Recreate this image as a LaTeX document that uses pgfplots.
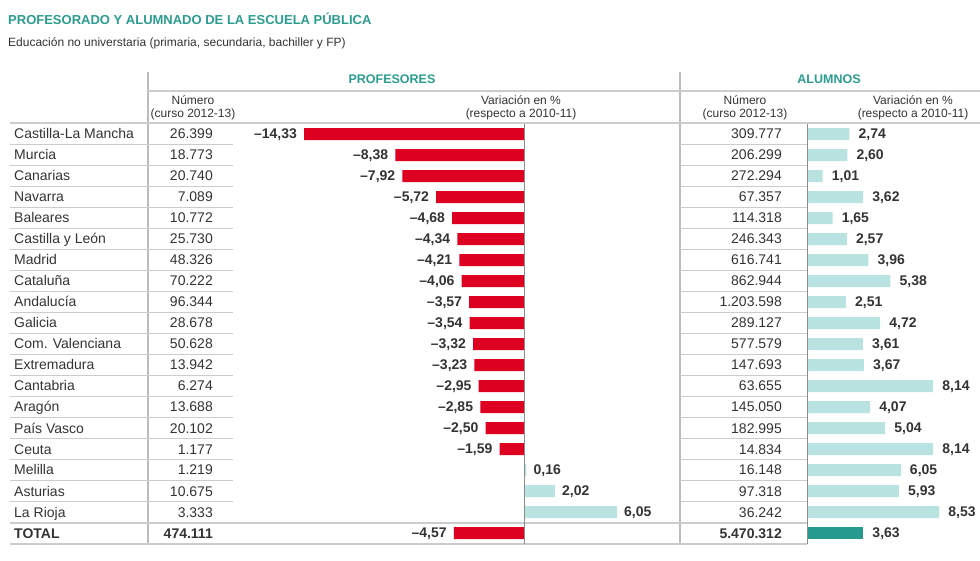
\documentclass[border=0pt]{standalone}
\usepackage{fontspec}
\setmainfont{Liberation Sans}
\usepackage{pgfplots}
\pgfplotsset{compat=1.18}
\usepackage{pgfplotstable}

\newcommand{\fs}[1]{\fontsize{#1}{#1}\selectfont}
\definecolor{rojo}{HTML}{DD0021}
\definecolor{tealL}{HTML}{B9E3E0}
\definecolor{tealD}{HTML}{279B8F}
\definecolor{tealT}{HTML}{2A9D8F}
\definecolor{txt}{HTML}{333333}
\definecolor{rulec}{HTML}{CCCCCC}
\definecolor{vrule}{HTML}{BBBBBB}
\definecolor{zeroc}{HTML}{8C8C8C}

\pgfplotstableread[col sep=semicolon,row sep=\\]{
row;name;pnum;pvar;plab;anum;avar;alab\\
0;Castilla-La Mancha;26.399;-14.33;–14,33;309.777;2.74;2,74\\
1;Murcia;18.773;-8.38;–8,38;206.299;2.60;2,60\\
2;Canarias;20.740;-7.92;–7,92;272.294;1.01;1,01\\
3;Navarra;7.089;-5.72;–5,72;67.357;3.62;3,62\\
4;Baleares;10.772;-4.68;–4,68;114.318;1.65;1,65\\
5;Castilla y León;25.730;-4.34;–4,34;246.343;2.57;2,57\\
6;Madrid;48.326;-4.21;–4,21;616.741;3.96;3,96\\
7;Cataluña;70.222;-4.06;–4,06;862.944;5.38;5,38\\
8;Andalucía;96.344;-3.57;–3,57;1.203.598;2.51;2,51\\
9;Galicia;28.678;-3.54;–3,54;289.127;4.72;4,72\\
10;Com. Valenciana;50.628;-3.32;–3,32;577.579;3.61;3,61\\
11;Extremadura;13.942;-3.23;–3,23;147.693;3.67;3,67\\
12;Cantabria;6.274;-2.95;–2,95;63.655;8.14;8,14\\
13;Aragón;13.688;-2.85;–2,85;145.050;4.07;4,07\\
14;País Vasco;20.102;-2.50;–2,50;182.995;5.04;5,04\\
15;Ceuta;1.177;-1.59;–1,59;14.834;8.14;8,14\\
16;Melilla;1.219;0.16;0,16;16.148;6.05;6,05\\
17;Asturias;10.675;2.02;2,02;97.318;5.93;5,93\\
18;La Rioja;3.333;6.05;6,05;36.242;8.53;8,53\\
19;TOTAL;474.111;-4.57;–4,57;5.470.312;3.63;3,63\\
}\datos

\tikzset{
  barlab/.style={font=\bfseries\fs{14}, text=txt, inner sep=0pt, text depth=0pt},
}

\begin{document}
\begin{tikzpicture}
\path[use as bounding box] (0,0) rectangle (980pt,560pt);

% ---------- table rules ----------
\begin{scope}[x=1pt,y=-1pt,yshift=560pt]
  \draw[vrule, line width=1.5pt] (148,72) -- (148,543.5);
  \draw[vrule, line width=1.5pt] (680,72) -- (680,543.5);
  \draw[rulec, line width=1.5pt] (148,91) -- (980,91);
  \draw[rulec, line width=2pt] (10,123.5) -- (980,123.5);
  \foreach \k in {1,...,18}{
    \draw[rulec, line width=1.5pt] (10,{123.5+21*\k}) -- (233,{123.5+21*\k});
    \draw[rulec, line width=1.5pt] (680,{123.5+21*\k}) -- (807,{123.5+21*\k});
  }
  \draw[rulec, line width=2pt] (10,522.5) -- (807,522.5);
  \draw[rulec, line width=2pt] (10,543.5) -- (807,543.5);
\end{scope}

% ---------- Profesores: variation bars ----------
\begin{axis}[
  at={(232pt,16.5pt)}, anchor=south west,
  scale only axis, width=448pt, height=420pt,
  xmin=-19.0228, xmax=10.1629,
  ymin=-0.5, ymax=19.5, y dir=reverse,
  hide axis, clip=false,
]
\addplot[xbar, bar shift=0pt, bar width=12pt, fill=rojo, draw=none,
  restrict x to domain=-100:0,
  nodes near coords, point meta=explicit symbolic,
  every node near coord/.append style={barlab, anchor=east, xshift=-7pt}]
  table[x=pvar, y=row, meta=plab] {\datos};
\addplot[xbar, bar shift=0pt, bar width=12pt, fill=tealL, draw=none,
  restrict x to domain=0:100,
  nodes near coords, point meta=explicit symbolic,
  every node near coord/.append style={barlab, anchor=west, xshift=7pt}]
  table[x=pvar, y=row, meta=plab] {\datos};
\draw[zeroc, line width=1pt] (axis cs:0,-0.5) -- (axis cs:0,19.5);
\end{axis}

% ---------- Alumnos: variation bars ----------
\begin{axis}[
  at={(807pt,16.5pt)}, anchor=south west,
  scale only axis, width=173pt, height=420pt,
  xmin=0, xmax=11.1613,
  ymin=-0.5, ymax=19.5, y dir=reverse,
  hide axis, clip=false,
]
\addplot[xbar, bar shift=0pt, bar width=12pt, fill=tealL, draw=none,
  restrict y to domain=-1:18.5,
  nodes near coords, point meta=explicit symbolic,
  every node near coord/.append style={barlab, anchor=west, xshift=9pt}]
  table[x=avar, y=row, meta=alab] {\datos};
\addplot[xbar, bar shift=0pt, bar width=12pt, fill=tealD, draw=none,
  restrict y to domain=18.5:20,
  nodes near coords, point meta=explicit symbolic,
  every node near coord/.append style={barlab, anchor=west, xshift=9pt}]
  table[x=avar, y=row, meta=alab] {\datos};
\draw[zeroc, line width=1pt] (axis cs:0,-0.5) -- (axis cs:0,19.5);
\end{axis}

% ---------- texts ----------
\begin{scope}[x=1pt,y=-1pt,yshift=560pt]
  \node[anchor=base west, inner sep=0pt, font=\bfseries\fs{13}, text=tealT] at (8,24.7)
    {PROFESORADO Y ALUMNADO DE LA ESCUELA PÚBLICA};
  \node[anchor=base west, inner sep=0pt, font=\fs{12}, text=txt] at (8,47)
    {Educación no universtaria (primaria, secundaria, bachiller y FP)};
  \node[anchor=base, inner sep=0pt, font=\bfseries\fs{12.5}, text=tealT] at (392,83.5) {PROFESORES};
  \node[anchor=base, inner sep=0pt, font=\bfseries\fs{12.5}, text=tealT] at (829,83.5) {ALUMNOS};
  \foreach \cx/\la/\lb in {193/Número/(curso 2012-13), 521/Variación en \%/(respecto a 2010-11),
                           745/Número/(curso 2012-13), 913/Variación en \%/(respecto a 2010-11)}{
    \node[anchor=base, inner sep=0pt, font=\fs{12}, text=txt] at (\cx,104.5) {\la};
    \node[anchor=base, inner sep=0pt, font=\fs{12}, text=txt] at (\cx,117.5) {\lb};
  }
  \foreach \i in {0,...,18}{
    \pgfplotstablegetelem{\i}{name}\of\datos
    \node[anchor=base west, inner sep=0pt, font=\fs{14}, text=txt] at (14,{139+21*\i}) {\pgfplotsretval};
    \pgfplotstablegetelem{\i}{pnum}\of\datos
    \node[anchor=base east, inner sep=0pt, font=\fs{14}, text=txt] at (213,{139+21*\i}) {\pgfplotsretval};
    \pgfplotstablegetelem{\i}{anum}\of\datos
    \node[anchor=base east, inner sep=0pt, font=\fs{14}, text=txt] at (782,{139+21*\i}) {\pgfplotsretval};
  }
  \pgfplotstablegetelem{19}{name}\of\datos
  \node[anchor=base west, inner sep=0pt, font=\bfseries\fs{14}, text=txt] at (14,538) {\pgfplotsretval};
  \pgfplotstablegetelem{19}{pnum}\of\datos
  \node[anchor=base east, inner sep=0pt, font=\bfseries\fs{14}, text=txt] at (213,538) {\pgfplotsretval};
  \pgfplotstablegetelem{19}{anum}\of\datos
  \node[anchor=base east, inner sep=0pt, font=\bfseries\fs{14}, text=txt] at (782,538) {\pgfplotsretval};
\end{scope}
\end{tikzpicture}
\end{document}
